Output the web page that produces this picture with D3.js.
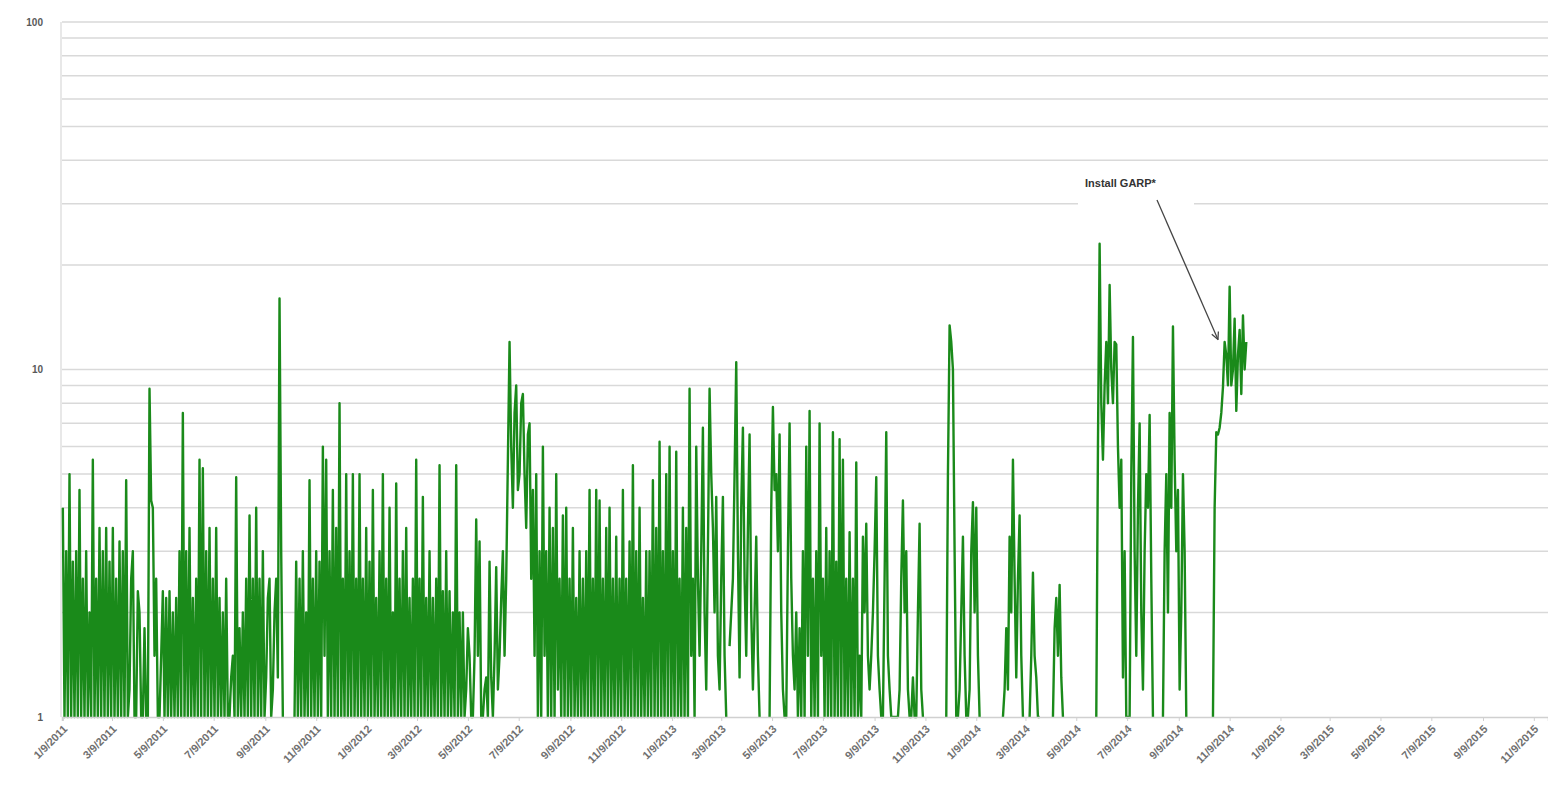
<!DOCTYPE html>
<html><head><meta charset="utf-8">
<script src="https://cdn.jsdelivr.net/npm/d3@7"></script>
<style>html,body{margin:0;padding:0;background:#fff;overflow:hidden}svg{display:block}</style>
</head><body>
<svg id="chart" width="1548" height="792"></svg>
<script>
// ---- data ----
const seriesStart = "1/9/2011";   // first reading date
const stepDays = 2;               // spacing between readings (days)
const readings = [
  4,1,3,1,5,1,2.8,1,3,1,4.5,1,2.5,1,3,1,2,1,5.5,1,
  2.5,1,3.5,1,3,1,3.5,1,2.8,1,3.5,1,2.5,1,3.2,1,3,1,4.8,1,
  1.2,2.5,3,1,1,2.3,2,1,1,1.8,1,1,8.8,4.2,4,1.5,2.5,1,1,1.5,
  2.3,1,2.2,1,2.3,1,2,1,2.2,1,3,1,7.5,1,3,1,3.5,1,2.2,1,
  2.5,1,5.5,1,5.2,1,3,1,3.5,1,2.5,1,3.5,1,2.2,1,2,1,2.5,1,
  1,1.3,1.5,1,4.9,1,1.8,1,2,1,2.5,1,3.8,1,2.5,1,4,1,2.5,1,
  3,1,1.3,2.2,2.5,1,1.2,2,2.5,1.3,16,3,1,null,null,null,null,null,null,1,
  2.8,1,2.5,1,3,1,2,1,4.8,1,2.5,1,3,1,2.8,1,6,1.5,5.5,1,
  3,1,4.5,1,3.5,1,8,1,2.5,1,5,1,3,1,5,1,2.5,1,5,1,
  2.5,1,3.5,1,2.8,1,4.5,1,2.2,1,3,1,5,1,2.5,1,4,1,2,1,
  4.7,1,2.5,1,3,1,3.5,1,2.2,1,2.5,1,5.5,1,2.5,1,4.3,1,2.2,1,
  3,1,2.2,1,2.5,1,5.3,1,2.3,1,3,1,2.3,1,2,1,5.3,1,2,1,
  2,1,1.2,1.8,1.5,1,1,1.5,3.7,1.5,3.2,1,1,1.2,1.3,1,2.8,1.3,1,1.5,
  2.7,1.2,1.5,2.2,3,1.5,2.5,5.5,12,6,4,7.5,9,4.5,5,8,8.5,5,3.5,6.5,
  7,2.5,4.5,1.5,5,1,3,1,6,1.5,3,1,4,1,3.5,1,5,1.2,2.5,1,
  3.8,1,4,1,2.5,1,3.5,1,2.2,1,3,1,2.5,1,3,1,4.5,1,2.5,1,
  4.5,1,4.2,1,2.5,1,3.5,1,4,1,2.5,1,3.3,1,2.5,1,4.5,1,2.5,1,
  3.2,1,5.3,1,3,1,4,1,2.2,1,3,1,3,1,4.8,1,3.5,1,6.2,1,
  3,1,5,1,6,1,3,1,5.8,1,2.5,1,4,1,3.5,1,8.8,1.5,2.5,1,
  6,2.5,1.5,3,6.8,2,1.2,3,8.8,5,3.5,2,4.3,1.5,1.2,2.5,4.3,1.5,1,null,
  1.6,2,2.5,5,10.5,3,1.3,4,6.8,2.5,1.5,3.5,6.5,2,1.2,2,3.3,1.5,1,null,
  null,null,null,null,1,4,7.8,4.5,5,3,6.5,2,1.2,1,1,3,7,2.5,1.5,1.2,
  2,1,1.8,1,3,1,6,1.5,7.6,1,2.5,1,3,1,7,1.5,2.5,1,3.5,1,
  3,1,6.6,1,2.8,1,6.3,1,5.5,1,2.5,1,3.4,1,2.5,1,5.4,1,1.5,1,
  3.3,2,3.6,1.5,1.2,1.5,2,3,4.9,1.5,1.2,1,1,2.5,6.6,1.5,1.2,1,1,1,
  1,1,1.2,2.5,4.2,2,3,1.2,1,1,1.3,1,1,2,3.6,1.2,1,null,null,null,
  null,null,null,null,null,null,null,null,null,null,1,5,13.4,12,10,3,1,1,1.2,2,
  3.3,1.5,1,1,1.2,3,4.15,2,4,1.5,1,null,null,null,null,null,null,null,null,null,
  null,null,null,null,1,1.2,1.8,1.2,3.3,2,5.5,2.5,1.3,2.5,3.8,1.5,1,null,null,null,
  1,1.5,2.6,1.5,1.3,1,1,null,null,null,null,null,null,null,1,1.8,2.2,1.5,2.4,1.3,
  1,null,null,null,null,null,null,null,null,null,null,null,null,null,null,null,null,null,null,null,
  1,6,23,8,5.5,9,12,8,17.5,10,8,12,11.8,6,4,5.5,1.3,3,1,1,
  1,5,12.4,3,1.5,4,7,2,1.2,3,5,4,7.4,2.5,1,null,null,null,null,null,
  1,3,5,2,7.5,4,13.3,5.5,3,4.5,1.2,2,5,3,1,null,null,null,null,null,
  null,null,null,null,null,null,null,null,null,null,1,4,6.6,6.5,6.8,7.5,8.9,12,11,9,
  17.3,9,10,14,7.6,11,13,8.5,14.3,10,12
];
const tickLabels = ["1/9/2011","3/9/2011","5/9/2011","7/9/2011","9/9/2011","11/9/2011",
  "1/9/2012","3/9/2012","5/9/2012","7/9/2012","9/9/2012","11/9/2012",
  "1/9/2013","3/9/2013","5/9/2013","7/9/2013","9/9/2013","11/9/2013",
  "1/9/2014","3/9/2014","5/9/2014","7/9/2014","9/9/2014","11/9/2014",
  "1/9/2015","3/9/2015","5/9/2015","7/9/2015","9/9/2015","11/9/2015"];
const yTickValues = [1, 10, 100];
const axisStart = "1/8/2011", axisEnd = "11/26/2015";
const annotationText = "Install GARP*";
const annotationDate = "10/26/2014", annotationValue = 12.2;

// ---- chart ----
const parse = d3.timeParse("%m/%d/%Y");
const t0 = parse(seriesStart);
const data = readings.map((v, i) => ({ date: d3.timeDay.offset(t0, i * stepDays), v }));

const svg = d3.select("#chart");
const x = d3.scaleTime().domain([parse(axisStart), parse(axisEnd)]).range([62, 1548]);
const y = d3.scaleLog().domain([1, 100]).range([717, 22]);

// gridlines (all log levels)
const gridVals = [];
for (let d = 1; d <= 10; d *= 10) for (let k = 2; k <= 10; k++) gridVals.push(d * k);
svg.append("g").selectAll("line").data(gridVals).join("line")
  .attr("x1", 62).attr("x2", 1548)
  .attr("y1", d => y(d)).attr("y2", d => y(d))
  .attr("stroke", "#d9d9d9").attr("stroke-width", 1.5);

// y axis line
svg.append("line").attr("x1", 61).attr("x2", 61).attr("y1", 22).attr("y2", 717)
  .attr("stroke", "#e0e0e0").attr("stroke-width", 1.5);

// y labels
svg.append("g").selectAll("text").data(yTickValues).join("text")
  .attr("x", 43).attr("y", d => y(d)).attr("dy", "0.35em")
  .attr("text-anchor", "end")
  .attr("font-family", "Liberation Sans, Arial, sans-serif")
  .attr("font-size", 10).attr("font-weight", "bold").attr("fill", "#595959")
  .text(d => d);

// data line
const line = d3.line().defined(d => d.v != null)
  .x(d => x(d.date)).y(d => y(Math.max(1, d.v)));
svg.append("path").datum(data)
  .attr("fill", "none").attr("stroke", "#1a8a1a").attr("stroke-width", 2.4)
  .attr("stroke-linejoin", "round").attr("d", line);

// x axis
const tickDates = tickLabels.map(parse);
const xAxis = d3.axisBottom(x).tickValues(tickDates).tickSize(4)
  .tickFormat((d, i) => tickLabels[i]);
const gx = svg.append("g").attr("transform", "translate(0,717)").call(xAxis);
gx.select(".domain").attr("stroke", "#d0d0d0").attr("stroke-width", 1.5);
gx.selectAll(".tick line").attr("stroke", "#d0d0d0");
gx.selectAll(".tick text")
  .attr("font-family", "Liberation Sans, Arial, sans-serif")
  .attr("font-size", 11).attr("font-weight", "bold").attr("fill", "#707070")
  .attr("text-anchor", "end")
  .attr("transform", "translate(2,10) rotate(-45)")
  .attr("x", 0).attr("y", 0).attr("dy", "0.35em");

// annotation
svg.append("rect").attr("x", 1078).attr("y", 166).attr("width", 116).attr("height", 44).attr("fill", "#fff");
svg.append("text").attr("x", 1085).attr("y", 187)
  .attr("font-family", "Liberation Sans, Arial, sans-serif")
  .attr("font-size", 11).attr("font-weight", "bold").attr("fill", "#333")
  .text(annotationText);
const defs = svg.append("defs");
defs.append("marker").attr("id", "arr").attr("viewBox", "0 0 10 10")
  .attr("refX", 9).attr("refY", 5).attr("markerWidth", 9).attr("markerHeight", 9)
  .attr("orient", "auto").attr("markerUnits", "userSpaceOnUse")
  .append("path").attr("d", "M1,1 L9,5 L1,9").attr("fill", "none")
  .attr("stroke", "#444").attr("stroke-width", 1.4);
svg.append("line").attr("x1", 1157).attr("y1", 200)
  .attr("x2", x(parse(annotationDate))).attr("y2", y(annotationValue))
  .attr("stroke", "#444").attr("stroke-width", 1.3).attr("marker-end", "url(#arr)");
</script>
</body></html>
